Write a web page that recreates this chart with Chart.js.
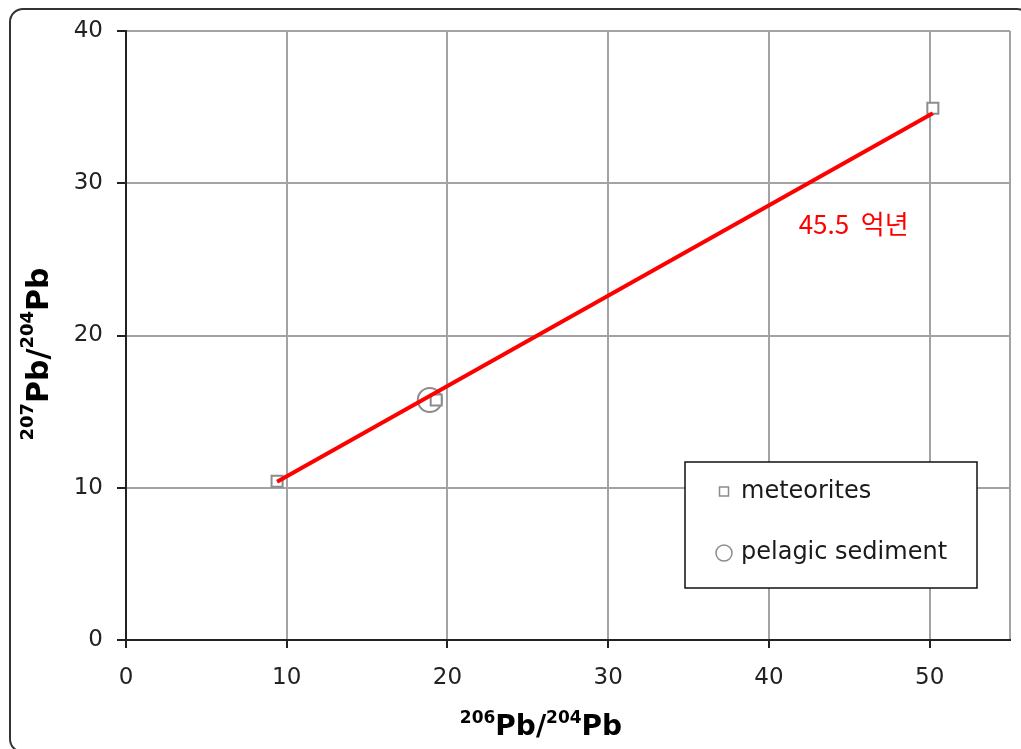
<!DOCTYPE html>
<html>
<head>
<meta charset="utf-8">
<script src="https://cdn.jsdelivr.net/npm/chart.js@4.4.1/dist/chart.umd.min.js"></script>
<style>
  html, body { margin: 0; padding: 0; background: #ffffff; }
  #wrap { position: relative; width: 1021px; height: 749px; }
  canvas { display: block; }
</style>
</head>
<body>
<div id="wrap"><canvas id="c" width="1021" height="749"></canvas></div>
<script>
// ---- data ----
const meteoriteX = [9.4, 19.3, 50.2];
const meteoriteY = [10.43, 15.76, 34.93];
const sedimentX = [18.9];
const sedimentY = [15.76];
const isochronX = [9.4, 50.2];
const isochronY = [10.4, 34.6];
const xTickValues = [0, 10, 20, 30, 40, 50];
const yTickValues = [0, 10, 20, 30, 40];
const seriesNames = ['meteorites', 'pelagic sediment'];
const annotationText = '45.5  억년';
const annotationPos = [41.85, 27.3];
const xTitleParts = [['206', true], ['Pb/', false], ['204', true], ['Pb', false]];
const yTitleParts = [['207', true], ['Pb/', false], ['204', true], ['Pb', false]];

const toPoints = (xs, ys) => xs.map((x, i) => ({ x: x, y: ys[i] }));

const GRID = '#a3a3a3';
const AXIS = '#222222';
const MARK = '#8c8c8c';

function drawParts(ctx, parts, supOffset, bigSize, smallSize) {
  const big = 'bold ' + bigSize + 'px "DejaVu Sans"';
  const small = 'bold ' + smallSize + 'px "DejaVu Sans"';
  let total = 0;
  parts.forEach(p => { ctx.font = p[1] ? small : big; total += ctx.measureText(p[0]).width; });
  let x = -total / 2;
  ctx.textAlign = 'left';
  ctx.textBaseline = 'alphabetic';
  parts.forEach(p => {
    ctx.font = p[1] ? small : big;
    ctx.fillText(p[0], x, p[1] ? -supOffset : 0);
    x += ctx.measureText(p[0]).width;
  });
}

const decorPlugin = {
  id: 'decor',
  beforeDraw(chart) {
    const ctx = chart.ctx;
    ctx.save();
    ctx.fillStyle = '#ffffff';
    ctx.fillRect(0, 0, chart.width, chart.height);
    // rounded outer frame
    ctx.strokeStyle = '#333333';
    ctx.lineWidth = 2;
    const x0 = 10, y0 = 9, x1 = 1030, y1 = 752, r = 13;
    ctx.beginPath();
    ctx.moveTo(x0 + r, y0);
    ctx.lineTo(x1 - r, y0);
    ctx.arcTo(x1, y0, x1, y0 + r, r);
    ctx.lineTo(x1, y1 - r);
    ctx.arcTo(x1, y1, x1 - r, y1, r);
    ctx.lineTo(x0 + r, y1);
    ctx.arcTo(x0, y1, x0, y1 - r, r);
    ctx.lineTo(x0, y0 + r);
    ctx.arcTo(x0, y0, x0 + r, y0, r);
    ctx.closePath();
    ctx.stroke();
    ctx.restore();
  },
  afterDraw(chart) {
    const ctx = chart.ctx;
    const xs = chart.scales.x, ys = chart.scales.y;
    ctx.save();
    // axis titles
    ctx.fillStyle = '#000000';
    ctx.save();
    ctx.translate(541, 735);
    drawParts(ctx, xTitleParts, 12, 28, 17);
    ctx.restore();
    ctx.save();
    ctx.translate(48, 354);
    ctx.rotate(-Math.PI / 2);
    drawParts(ctx, yTitleParts, 15, 30, 18);
    ctx.restore();

    // annotation
    ctx.fillStyle = '#ff0000';
    ctx.font = '26px "Noto Sans CJK KR"';
    ctx.textAlign = 'left';
    ctx.textBaseline = 'middle';
    ctx.fillText(annotationText, xs.getPixelForValue(annotationPos[0]), ys.getPixelForValue(annotationPos[1]));

    // legend box
    const bx = 685, by = 462, bw = 292, bh = 126;
    ctx.fillStyle = '#ffffff';
    ctx.fillRect(bx, by, bw, bh);
    ctx.strokeStyle = '#111111';
    ctx.lineWidth = 1.5;
    ctx.strokeRect(bx, by, bw, bh);
    ctx.font = '24px "DejaVu Sans"';
    ctx.textBaseline = 'middle';
    const rows = [492, 553];
    const dsIdx = [0, 1];
    dsIdx.forEach((di, k) => {
      const ds = chart.data.datasets[di];
      const cy = rows[k];
      ctx.strokeStyle = MARK;
      ctx.lineWidth = 1.5;
      if (ds.pointStyle === 'rect') {
        ctx.strokeRect(719.5, cy - 5, 9, 9);
      } else {
        ctx.beginPath();
        ctx.arc(724, cy, 8, 0, Math.PI * 2);
        ctx.stroke();
      }
      ctx.fillStyle = '#1a1a1a';
      ctx.fillText(ds.label, 741, cy);
    });
    ctx.restore();
  }
};

new Chart(document.getElementById('c'), {
  type: 'scatter',
  data: {
    datasets: [
      {
        label: seriesNames[0],
        data: toPoints(meteoriteX, meteoriteY),
        pointStyle: 'rect',
        pointRadius: 7.8,
        borderColor: MARK,
        backgroundColor: '#ffffff',
        borderWidth: 2,
        order: 1
      },
      {
        label: seriesNames[1],
        data: toPoints(sedimentX, sedimentY),
        pointStyle: 'circle',
        pointRadius: 12,
        borderColor: MARK,
        backgroundColor: 'rgba(0,0,0,0)',
        borderWidth: 2,
        order: 2
      },
      {
        label: 'isochron',
        data: toPoints(isochronX, isochronY),
        showLine: true,
        borderColor: '#ff0000',
        borderWidth: 4,
        pointRadius: 0,
        order: 0
      }
    ]
  },
  options: {
    responsive: false,
    animation: false,
    layout: { autoPadding: false, padding: { left: 0, right: 11, top: 31, bottom: 0 } },
    plugins: { legend: { display: false }, tooltip: { enabled: false } },
    scales: {
      x: {
        type: 'linear',
        min: 0,
        max: 55,
        afterBuildTicks: (s) => { s.ticks = xTickValues.map(v => ({ value: v })).concat([{ value: 55 }]); },
        afterFit: (s) => { s.height = 109; s.paddingRight = 0; s.paddingLeft = 0; },
        ticks: {
          font: { family: 'DejaVu Sans', size: 23 },
          color: '#222222',
          padding: 16,
          maxRotation: 0,
          callback: (v) => (xTickValues.includes(v) ? String(v) : '')
        },
        grid: {
          color: GRID,
          lineWidth: 2,
          tickLength: 8,
          tickColor: (c) => (c.tick && c.tick.value === 55 ? 'rgba(0,0,0,0)' : AXIS),
          tickWidth: 2
        },
        border: { color: AXIS, width: 2 }
      },
      y: {
        type: 'linear',
        min: 0,
        max: 40,
        afterBuildTicks: (s) => { s.ticks = yTickValues.map(v => ({ value: v })); },
        afterFit: (s) => { s.width = 126; s.paddingTop = 0; s.paddingBottom = 0; },
        ticks: {
          font: { family: 'DejaVu Sans', size: 23 },
          color: '#222222',
          padding: 14,
          callback: (v) => String(v)
        },
        grid: {
          color: GRID,
          lineWidth: 2,
          tickLength: 9,
          tickColor: AXIS,
          tickWidth: 2
        },
        border: { color: AXIS, width: 2 }
      }
    }
  },
  plugins: [decorPlugin]
});
</script>
</body>
</html>
